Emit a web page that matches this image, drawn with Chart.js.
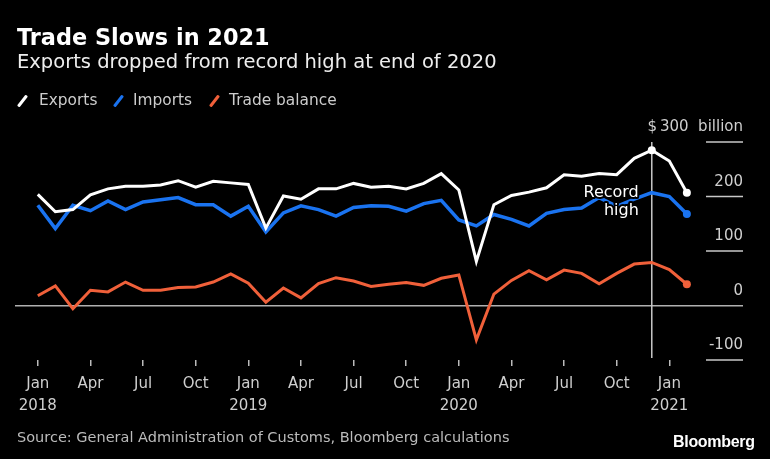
<!DOCTYPE html>
<html>
<head>
<meta charset="utf-8">
<script src="https://cdn.jsdelivr.net/npm/chart.js@4.4.1/dist/chart.umd.min.js"></script>
<style>
  html, body { margin: 0; padding: 0; background: #000; }
  #wrap { position: relative; width: 770px; height: 459px; overflow: hidden; font-family: "DejaVu Sans", sans-serif; }
  #chart { position: absolute; left: 0; top: 0; }
  .txt { position: absolute; white-space: nowrap; }
  #title { left: 17px; top: 25px; font-size: 22.4px; line-height: 24px; font-weight: bold; color: #fff; }
  #subtitle { left: 17px; top: 51px; font-size: 19.5px; line-height: 22px; color: #eee; }
  .leg { position: absolute; top: 91px; font-size: 15.4px; line-height: 18px; color: #ccc; }
  .mark { position: absolute; top: 94px; width: 3px; height: 14px; border-radius: 1px; transform: rotate(38deg); }
  #source { left: 17px; top: 428px; font-size: 14.5px; line-height: 18px; color: #bbb; }
  #logo { left: 673px; top: 433px; font-family: "Liberation Sans", Arial, sans-serif; font-weight: bold; font-size: 16px; line-height: 18px; color: #fff; letter-spacing: -0.3px; }
</style>
</head>
<body>
<div id="wrap">
  <canvas id="chart" width="770" height="459"></canvas>
  <div class="txt" id="title">Trade Slows in 2021</div>
  <div class="txt" id="subtitle">Exports dropped from record high at end of 2020</div>
  <div class="mark" style="left:21px; background:#fff;"></div>
  <div class="leg" style="left:39px;">Exports</div>
  <div class="mark" style="left:117px; background:#1a73f0;"></div>
  <div class="leg" style="left:133px;">Imports</div>
  <div class="mark" style="left:213px; background:#f0603a;"></div>
  <div class="leg" style="left:229px;">Trade balance</div>
  <div class="txt" id="source">Source: General Administration of Customs, Bloomberg calculations</div>
  <div class="txt" id="logo">Bloomberg</div>
</div>
<script>
// monthly values, billions of US dollars
const months = [
  'Jan 2018', 'Feb 2018', 'Mar 2018', 'Apr 2018', 'May 2018', 'Jun 2018',
  'Jul 2018', 'Aug 2018', 'Sep 2018', 'Oct 2018', 'Nov 2018', 'Dec 2018',
  'Jan 2019', 'Feb 2019', 'Mar 2019', 'Apr 2019', 'May 2019', 'Jun 2019',
  'Jul 2019', 'Aug 2019', 'Sep 2019', 'Oct 2019', 'Nov 2019', 'Dec 2019',
  'Jan 2020', 'Feb 2020', 'Mar 2020', 'Apr 2020', 'May 2020', 'Jun 2020',
  'Jul 2020', 'Aug 2020', 'Sep 2020', 'Oct 2020', 'Nov 2020', 'Dec 2020',
  'Jan 2021', 'Feb 2021'
];
const exportsData = [204, 172, 176, 203, 214, 219, 219, 221, 229, 217, 228, 225,
                     222, 142, 201, 195, 214, 214, 224, 217, 219, 214, 224, 242,
                     212, 81, 185, 202, 208, 216, 240, 237, 242, 240, 270, 285,
                     265, 207];
const importsData = [184, 141, 184, 174, 192, 176, 190, 194, 198, 185, 185, 164,
                     182, 135, 170, 183, 176, 164, 180, 183, 182, 173, 187, 193,
                     157, 146, 167, 158, 146, 169, 176, 179, 198, 182, 195, 207,
                     200, 168];
const balanceData = [18, 36, -6, 28, 25, 43, 28, 28, 33, 34, 43, 58,
                     41, 6, 32, 14, 40, 51, 45, 35, 39, 42, 37, 50,
                     56, -63, 21, 46, 64, 47, 65, 59, 40, 59, 76, 79,
                     66, 39];
const tickMonths = [0, 3, 6, 9, 12, 15, 18, 21, 24, 27, 30, 33, 36];
const tickLabels = [['Jan', '2018'], 'Apr', 'Jul', 'Oct', ['Jan', '2019'], 'Apr', 'Jul', 'Oct',
                    ['Jan', '2020'], 'Apr', 'Jul', 'Oct', ['Jan', '2021']];
const yTicks = [-100, 0, 100, 200, 300];
const recordIndex = 35; // Dec 2020

const toPoints = arr => arr.map((v, i) => ({ x: i, y: v }));
const lastIdx = months.length - 1;

const yLabel = v => v === 300 ? '$\u2009300  billion' : String(v);

const decorations = {
  id: 'decorations',
  beforeDatasetsDraw(chart) {
    const { ctx, chartArea, scales: { x, y } } = chart;
    ctx.save();
    ctx.strokeStyle = '#c8c8c8';
    ctx.lineWidth = 1.5;
    y.ticks.forEach(t => {
      if (t.value === 0) return;
      const py = y.getPixelForValue(t.value);
      ctx.beginPath();
      ctx.moveTo(chartArea.right - 37, py);
      ctx.lineTo(chartArea.right, py);
      ctx.stroke();
    });
    const rx = x.getPixelForValue(recordIndex);
    ctx.beginPath();
    ctx.moveTo(rx, y.getPixelForValue(300));
    ctx.lineTo(rx, chartArea.bottom - 2);
    ctx.stroke();

    ctx.fillStyle = '#cfcfcf';
    ctx.font = '15px "DejaVu Sans"';
    ctx.textAlign = 'right';
    ctx.textBaseline = 'alphabetic';
    y.ticks.forEach(t => {
      ctx.fillText(yLabel(t.value), chartArea.right, y.getPixelForValue(t.value) - 11);
    });
    ctx.restore();
  },
  afterDatasetsDraw(chart) {
    const { ctx, scales: { x, y } } = chart;
    const rx = x.getPixelForValue(recordIndex) - 13;
    ctx.save();
    ctx.font = '16px "DejaVu Sans"';
    ctx.textAlign = 'right';
    ctx.textBaseline = 'middle';
    ctx.lineJoin = 'round';
    ctx.lineWidth = 4;
    ctx.strokeStyle = '#000';
    ctx.fillStyle = '#fff';
    [['Record', 207], ['high', 174]].forEach(([t, v]) => {
      ctx.strokeText(t, rx, y.getPixelForValue(v));
      ctx.fillText(t, rx, y.getPixelForValue(v));
    });
    ctx.restore();
  }
};

const dotRadius = extra => ctx => (ctx.dataIndex === lastIdx || ctx.dataIndex === extra) ? 4 : 0;

new Chart(document.getElementById('chart').getContext('2d'), {
  type: 'line',
  data: {
    datasets: [
      {
        label: 'Exports',
        data: toPoints(exportsData),
        borderColor: '#ffffff',
        backgroundColor: '#ffffff',
        borderWidth: 3,
        pointRadius: dotRadius(recordIndex),
        pointBorderWidth: 0,
        tension: 0
      },
      {
        label: 'Imports',
        data: toPoints(importsData),
        borderColor: '#1a73f0',
        backgroundColor: '#1a73f0',
        borderWidth: 3.5,
        pointRadius: dotRadius(-1),
        pointBorderWidth: 0,
        tension: 0
      },
      {
        label: 'Trade balance',
        data: toPoints(balanceData),
        borderColor: '#f0603a',
        backgroundColor: '#f0603a',
        borderWidth: 3,
        pointRadius: dotRadius(-1),
        pointBorderWidth: 0,
        tension: 0
      }
    ]
  },
  options: {
    responsive: false,
    animation: false,
    events: [],
    layout: { padding: { left: 15, right: 27, top: 142, bottom: 49 } },
    plugins: {
      legend: { display: false },
      tooltip: { enabled: false }
    },
    scales: {
      x: {
        type: 'linear',
        min: -1.3,
        max: 40.2,
        afterBuildTicks: scale => { scale.ticks = tickMonths.map(v => ({ value: v })); },
        afterFit: scale => { scale.height = 50; },
        border: { display: false },
        grid: { drawOnChartArea: false, drawTicks: true, tickLength: 6, color: '#bbb', lineWidth: 1.5 },
        ticks: {
          autoSkip: false,
          maxRotation: 0,
          padding: 7,
          color: '#cfcfcf',
          font: { family: 'DejaVu Sans', size: 15, lineHeight: 1.45 },
          callback: (value, index) => tickLabels[index]
        }
      },
      y: {
        position: 'right',
        min: -100,
        max: 300,
        afterBuildTicks: scale => { scale.ticks = yTicks.map(v => ({ value: v })); },
        afterFit: scale => { scale.width = 0; },
        border: { display: false },
        grid: {
          drawTicks: false,
          lineWidth: 1.5,
          color: ctx => (ctx.tick && ctx.tick.value === 0) ? '#b0b0b0' : 'rgba(0,0,0,0)'
        },
        ticks: { display: false }
      }
    }
  },
  plugins: [decorations]
});
</script>
</body>
</html>
